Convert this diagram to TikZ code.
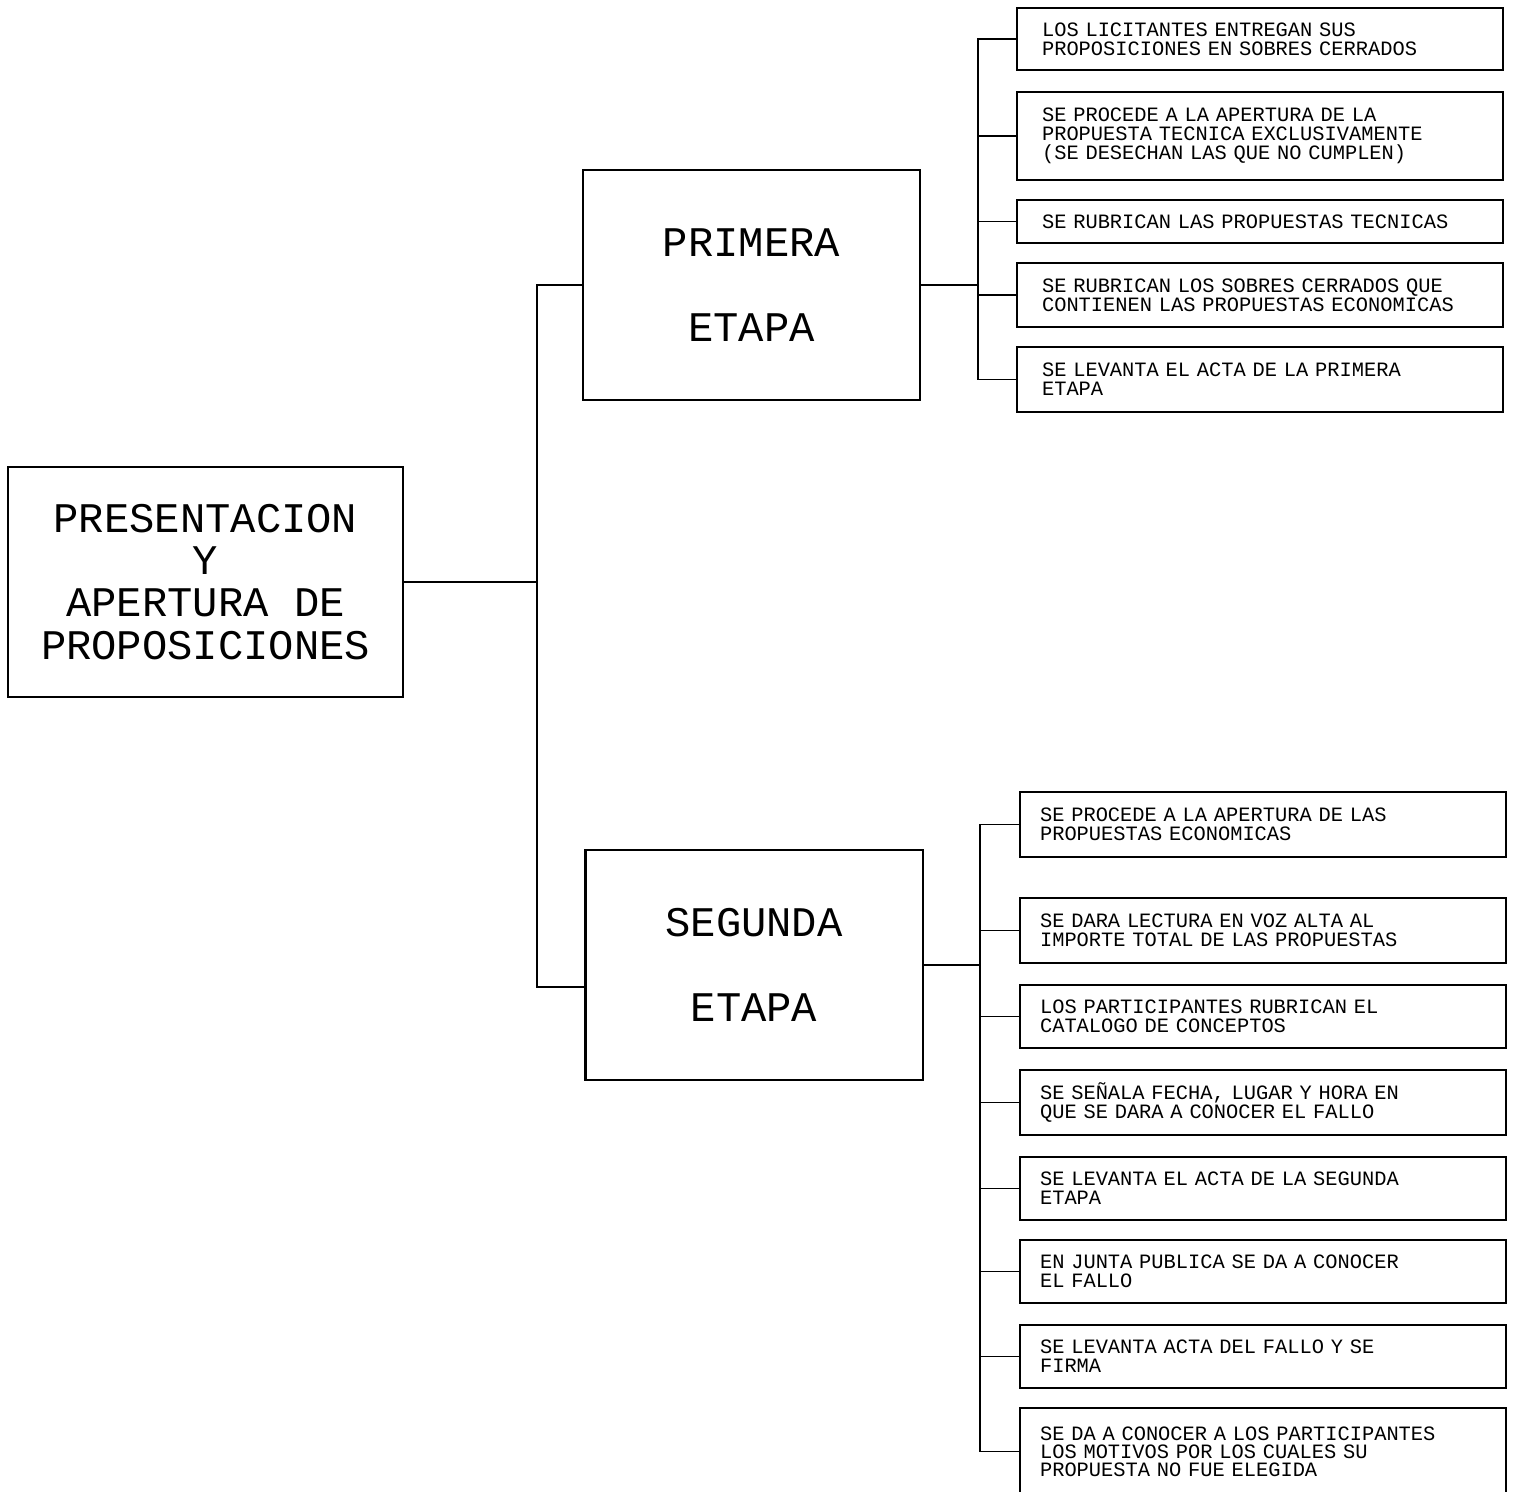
\documentclass[tikz,border=0pt]{standalone}
\usepackage{fontspec}
\setmonofont{Liberation Mono}
\begin{document}
\begin{tikzpicture}[x=0.02cm, y=-0.02cm,
    item/.style={draw, line width=0.8pt, font=\ttfamily\fontsize{11.6}{10.8}\selectfont, align=left, text width=8.72cm, inner xsep=0.5cm, inner ysep=0pt},
    itemb/.style={item, text width=8.92cm, inner xsep=0.4cm},
    etapa/.style={draw, line width=1.4pt, font=\ttfamily\fontsize{24}{24}\selectfont, align=center, minimum width=6.75cm, minimum height=4.6cm},
    link/.style={line width=0.7pt}]
        \useasboundingbox (0,0) rectangle (1517,1491);
        % Nodes
        \node (R) [etapa, minimum width=7.9cm] at (205.5,582) {PRESENTACION\\Y\\APERTURA DE\\PROPOSICIONES};
        \node (E1) [etapa] at (751.5,285) {PRIMERA\\[24pt]ETAPA};
        \node (E2) [etapa] at (754,965) {SEGUNDA\\[24pt]ETAPA};

        \node (A1) [item, minimum height=1.24cm] at (1260,39) {LOS LICITANTES ENTREGAN SUS\\PROPOSICIONES EN SOBRES CERRADOS};
        \node (A2) [item, minimum height=1.76cm] at (1260,136) {SE PROCEDE A LA APERTURA DE LA\\PROPUESTA TECNICA EXCLUSIVAMENTE\\(SE DESECHAN LAS QUE NO CUMPLEN)};
        \node (A3) [item, minimum height=0.86cm] at (1260,221.5) {SE RUBRICAN LAS PROPUESTAS TECNICAS};
        \node (A4) [item, minimum height=1.28cm] at (1260,295) {SE RUBRICAN LOS SOBRES CERRADOS QUE\\CONTIENEN LAS PROPUESTAS ECONOMICAS};
        \node (A5) [item, minimum height=1.3cm] at (1260,379.5) {SE LEVANTA EL ACTA DE LA PRIMERA\\ETAPA};

        \node (B1) [itemb, minimum height=1.3cm] at (1263,824.5) {SE PROCEDE A LA APERTURA DE LAS\\PROPUESTAS ECONOMICAS};
        \node (B2) [itemb, minimum height=1.3cm] at (1263,930.5) {SE DARA LECTURA EN VOZ ALTA AL\\IMPORTE TOTAL DE LAS PROPUESTAS};
        \node (B3) [itemb, minimum height=1.26cm] at (1263,1016.5) {LOS PARTICIPANTES RUBRICAN EL\\CATALOGO DE CONCEPTOS};
        \node (B4) [itemb, minimum height=1.3cm] at (1263,1102.5) {SE SEÑALA FECHA, LUGAR Y HORA EN\\QUE SE DARA A CONOCER EL FALLO};
        \node (B5) [itemb, minimum height=1.26cm] at (1263,1188.5) {SE LEVANTA EL ACTA DE LA SEGUNDA\\ETAPA};
        \node (B6) [itemb, minimum height=1.26cm] at (1263,1271.5) {EN JUNTA PUBLICA SE DA A CONOCER\\EL FALLO};
        \node (B7) [itemb, minimum height=1.26cm] at (1263,1356.5) {SE LEVANTA ACTA DEL FALLO Y SE\\FIRMA};
        \node (B8) [itemb, minimum height=1.74cm, font=\ttfamily\fontsize{11.6}{10.2}\selectfont] at (1263,1451.5) {SE DA A CONOCER A LOS PARTICIPANTES\\LOS MOTIVOS POR LOS CUALES SU\\PROPUESTA NO FUE ELEGIDA};

        \coordinate (T0) at (537,582);
        \coordinate (T1) at (978,285);
        \coordinate (T2) at (980,965);

        % Edges
        \draw[link] (R.east) -- (T0);
        \draw[link] (T0) |- (E1.west);
        \draw[link] (T0) |- ([yshift=-0.44cm]E2.west);

        \draw[link] (E1.east) -- (T1);
        \draw[link] (T1) |- (A1.west);
        \draw[link] (T1) |- (A2.west);
        \draw[link] (T1) |- (A3.west);
        \draw[link] (T1) |- (A4.west);
        \draw[link] (T1) |- (A5.west);

        \draw[link] (E2.east) -- (T2);
        \draw[link] (T2) |- (B1.west);
        \draw[link] (T2) |- (B2.west);
        \draw[link] (T2) |- (B3.west);
        \draw[link] (T2) |- (B4.west);
        \draw[link] (T2) |- (B5.west);
        \draw[link] (T2) |- (B6.west);
        \draw[link] (T2) |- (B7.west);
        \draw[link] (T2) |- (B8.west);
    \end{tikzpicture}
\end{document}
